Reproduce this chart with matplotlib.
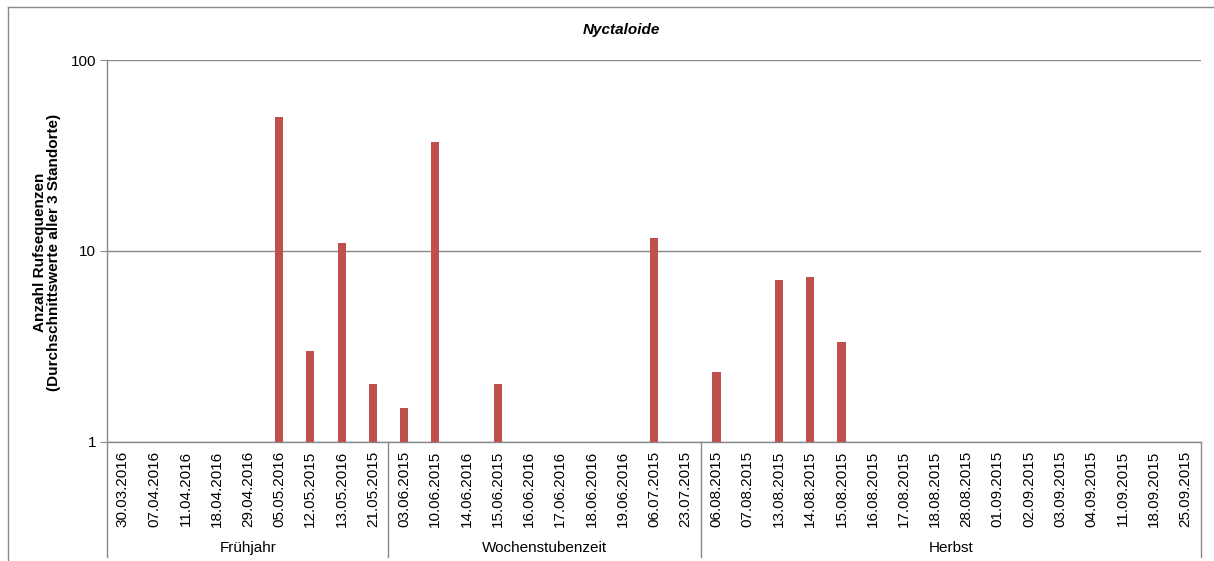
import numpy as np
import matplotlib.pyplot as plt
from matplotlib.lines import Line2D
import matplotlib.transforms as mtransforms

plt.rcParams['font.family'] = ['Liberation Sans', 'DejaVu Sans']

# dates (category labels) per season group
dates = ["30.03.2016", "07.04.2016", "11.04.2016", "18.04.2016", "29.04.2016",
         "05.05.2016", "12.05.2015", "13.05.2016", "21.05.2015",
         "03.06.2015", "10.06.2015", "14.06.2016", "15.06.2015", "16.06.2016",
         "17.06.2016", "18.06.2016", "19.06.2016", "06.07.2015", "23.07.2015",
         "06.08.2015", "07.08.2015", "13.08.2015", "14.08.2015", "15.08.2015",
         "16.08.2015", "17.08.2015", "18.08.2015", "28.08.2015", "01.09.2015",
         "02.09.2015", "03.09.2015", "04.09.2015", "11.09.2015", "18.09.2015",
         "25.09.2015"]
groups = ["Frühjahr", "Wochenstubenzeit", "Herbst"]
group_sizes = [9, 10, 16]

# mean number of call sequences (0 = none recorded)
values = [0, 0, 0, 0, 0, 50, 3, 11, 2,
          1.5, 37, 0, 2, 0, 0, 0, 0, 11.67, 0,
          2.33, 0, 7, 7.33, 3.33, 0, 0, 0, 0, 0, 0, 0, 0, 0, 0, 0]

gray = '#898989'
bar_col = '#C0504D'

fig = plt.figure(figsize=(12.14, 5.61), dpi=100)
W, H = 1214, 561
ax = fig.add_axes([107.3 / W, 1 - 441.7 / H, 1093.4 / W, 381.7 / H])

x = np.arange(len(dates))
v = np.array(values, dtype=float)
mask = v > 0
ax.bar(x[mask], v[mask] - 1, bottom=1, width=0.26, color=bar_col, zorder=3)

ax.set_yscale('log')
ax.set_ylim(1, 100)
ax.set_xlim(-0.5, len(dates) - 0.5)
ax.set_yticks([1, 10, 100])
ax.set_yticklabels(['1', '10', '100'])
ax.yaxis.set_minor_locator(plt.NullLocator())
ax.tick_params(axis='y', length=5, color=gray, labelsize=11, pad=3)
ax.set_xticks(x)
ax.set_xticklabels(dates, rotation=90, fontsize=11, va='top')
ax.tick_params(axis='x', length=0, pad=6.5)

ax.yaxis.grid(True, which='major', color=gray, lw=1)
ax.set_axisbelow(True)
for s in ['top', 'right']:
    ax.spines[s].set_visible(False)
for s in ['left', 'bottom']:
    ax.spines[s].set_color(gray)
    ax.spines[s].set_linewidth(1)

# group separators and labels under the category axis
trans = mtransforms.blended_transform_factory(ax.transData, ax.transAxes)
bounds = np.concatenate([[0], np.cumsum(group_sizes)]) - 0.5
ylow = -(557 - 441.7) / 381.7
for b in bounds:
    ax.plot([b, b], [0, ylow], color=gray, lw=1, transform=trans, clip_on=False)
for i, g in enumerate(groups):
    ax.text((bounds[i] + bounds[i + 1]) / 2, -(548 - 441.7) / 381.7, g,
            transform=trans, ha='center', va='center', fontsize=11)

# outer chart frame
fig.add_artist(Line2D([8 / W, 8 / W], [0, 1 - 7.3 / H], color=gray, lw=1))
fig.add_artist(Line2D([8 / W, 1], [1 - 7.3 / H, 1 - 7.3 / H], color=gray, lw=1))

fig.text(621 / W, 1 - 30 / H, 'Nyctaloide', ha='center', va='center',
         fontsize=11, fontweight='bold', fontstyle='italic')
fig.text(47 / W, 1 - 252 / H, 'Anzahl Rufsequenzen\n(Durchschnittswerte aller 3 Standorte)',
         ha='center', va='center', rotation=90, fontsize=11, fontweight='bold',
         linespacing=1.0)

plt.savefig('out.png', dpi=100)
